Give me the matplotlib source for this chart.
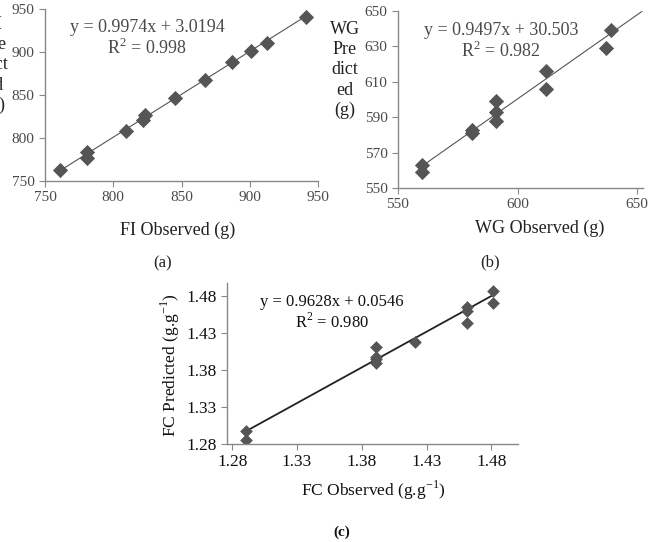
import numpy as np
import matplotlib
matplotlib.use('Agg')
import matplotlib.pyplot as plt

plt.rcParams['font.family'] = ['Liberation Serif', 'DejaVu Serif']
plt.rcParams['mathtext.fontset'] = 'custom'
plt.rcParams['mathtext.rm'] = 'Liberation Serif'

# (a) feed intake
fi_obs = [761, 781, 781, 809, 822, 823, 845, 867, 887, 901, 913, 941]
fi_pred = [763, 784, 777, 808, 821, 827, 847, 868, 888, 901, 911, 941]
fi_coef = [0.9974, 3.0194]
fi_ticks = [750, 800, 850, 900, 950]

# (b) weight gain
wg_obs = [560, 560, 581, 581, 591, 591, 591, 612, 612, 637, 639]
wg_pred = [563, 559, 583, 581, 599, 593, 588, 616, 606, 629, 639]
wg_coef = [0.9497, 30.503]
wg_xticks = [550, 600, 650]
wg_yticks = [550, 570, 590, 610, 630, 650]

# (c) feed conversion
fc_obs = [1.291, 1.291, 1.391, 1.391, 1.391, 1.391, 1.421, 1.461, 1.461, 1.461, 1.481, 1.481]
fc_pred = [1.298, 1.286, 1.411, 1.397, 1.394, 1.389, 1.417, 1.464, 1.459, 1.443, 1.486, 1.470]
fc_coef = [0.9628, 0.0546]
fc_ticks = [1.28, 1.33, 1.38, 1.43, 1.48]

W, H = 651, 542
fig = plt.figure(figsize=(W / 100, H / 100), dpi=100)

def box(l, t, r, b):
    return [l / W, 1 - b / H, (r - l) / W, (b - t) / H]

gray = '#4a4a4a'
mk = '#555555'

def style(ax, col, size):
    ax.spines['top'].set_visible(False)
    ax.spines['right'].set_visible(False)
    for s in ['left', 'bottom']:
        ax.spines[s].set_color('#888888')
        ax.spines[s].set_linewidth(1.0)
    ax.tick_params(direction='out', length=4, width=0.8, colors='#888888',
                   labelcolor=col, labelsize=size)

# panel a
ax = fig.add_axes(box(45, 9, 318, 181))
xs = np.array([min(fi_obs), max(fi_obs)])
ax.plot(xs, np.polyval(fi_coef, xs), color='#555555', lw=0.8, zorder=1)
ax.scatter(fi_obs, fi_pred, marker='D', s=60, color=mk, zorder=2, linewidths=0)
ax.set_xlim(750, 950)
ax.set_ylim(750, 950)
ax.set_xticks(fi_ticks)
ax.set_yticks(fi_ticks)
style(ax, gray, 11)
ax.text(0.375, 0.89, 'y = 0.9974x + 3.0194', transform=ax.transAxes,
        ha='center', va='center', fontsize=13, color=gray)
ax.text(0.375, 0.775, 'R$^2$ = 0.998', transform=ax.transAxes,
        ha='center', va='center', fontsize=13, color=gray)
# y label runs off the left edge, as in the original figure
fig.text(-5 / W, 1 - 65 / H, 'FI\nPre\ndict\ned\n(g)', ha='center', va='center',
         fontsize=13, color='#222222', linespacing=1.25)
fig.text(178 / W, 1 - 230 / H, 'FI Observed (g)', ha='center', va='center',
         fontsize=13, color='#222222')
fig.text(163 / W, 1 - 263 / H, '(a)', ha='center', va='center',
         fontsize=12, color='#222222')

# panel b
ax = fig.add_axes(box(398, 11, 643, 188))
xs = np.array([min(wg_obs), 652])
ax.plot(xs, np.polyval(wg_coef, xs), color='#555555', lw=0.8, zorder=1)
ax.scatter(wg_obs, wg_pred, marker='D', s=60, color=mk, zorder=2, linewidths=0)
ax.set_xlim(550, 652.5)
ax.set_ylim(550, 650)
ax.set_xticks(wg_xticks)
ax.set_yticks(wg_yticks)
style(ax, gray, 11)
ax.text(0.42, 0.89, 'y = 0.9497x + 30.503', transform=ax.transAxes,
        ha='center', va='center', fontsize=13, color=gray)
ax.text(0.42, 0.775, 'R$^2$ = 0.982', transform=ax.transAxes,
        ha='center', va='center', fontsize=13, color=gray)
fig.text(345 / W, 1 - 70 / H, 'WG\nPre\ndict\ned\n(g)', ha='center', va='center',
         fontsize=13, color='#222222', linespacing=1.25)
fig.text(540 / W, 1 - 228 / H, 'WG Observed (g)', ha='center', va='center',
         fontsize=13, color='#222222')
fig.text(490 / W, 1 - 262 / H, '(b)', ha='center', va='center',
         fontsize=12, color='#222222')

# panel c
ax = fig.add_axes(box(227, 283, 518, 444))
xs = np.array([min(fc_obs), max(fc_obs)])
ax.plot(xs, np.polyval(fc_coef, xs), color='#222222', lw=1.3, zorder=1)
ax.scatter(fc_obs, fc_pred, marker='D', s=42, color=mk, zorder=2, linewidths=0)
ax.set_xlim(1.276, 1.5005)
ax.set_ylim(1.28, 1.497)
ax.set_xticks(fc_ticks)
ax.set_yticks(fc_ticks)
ax.set_xticklabels(['%.2f' % t for t in fc_ticks])
ax.set_yticklabels(['%.2f' % t for t in fc_ticks])
style(ax, '#111111', 12.5)
ax.text(0.36, 0.885, 'y = 0.9628x + 0.0546', transform=ax.transAxes,
        ha='center', va='center', fontsize=12, color='#111111')
ax.text(0.36, 0.76, 'R$^2$ = 0.980', transform=ax.transAxes,
        ha='center', va='center', fontsize=12, color='#111111')
fig.text(170 / W, 1 - 365 / H, 'FC Predicted (g.g$^{-1}$)', ha='center', va='center',
         rotation=90, fontsize=12.5, color='#111111')
fig.text(373 / W, 1 - 490 / H, 'FC Observed (g.g$^{-1}$)', ha='center', va='center',
         fontsize=12.5, color='#111111')
fig.text(342 / W, 1 - 532 / H, '(c)', ha='center', va='center',
         fontsize=11, fontweight='bold', color='#111111')

fig.savefig('out.png', dpi=100)
